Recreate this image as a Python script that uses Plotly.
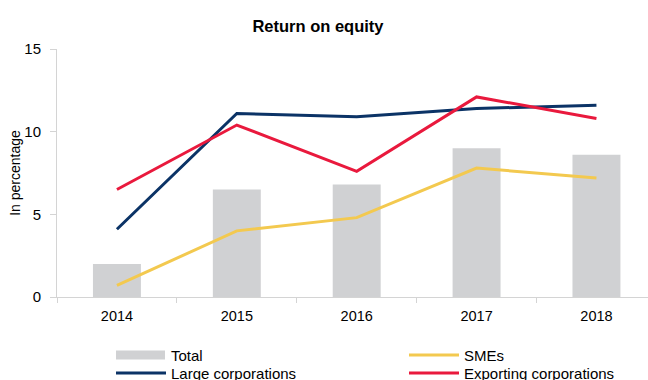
import plotly.graph_objects as go

# Return on equity by firm group, in percent
years = ["2014", "2015", "2016", "2017", "2018"]
total = [2.0, 6.5, 6.8, 9.0, 8.6]
smes = [0.7, 4.0, 4.8, 7.8, 7.2]
large_corps = [4.1, 11.1, 10.9, 11.4, 11.6]
exporting_corps = [6.5, 10.4, 7.6, 12.1, 10.8]

FONT = "Liberation Sans Narrow, Arial Narrow, Liberation Sans, Arial, sans-serif"
GREY_BAR = "#d0d1d3"
NAVY = "#0b3366"
RED = "#e9193d"
YELLOW = "#f3c94f"
AXIS = "#d4d4d4"

W, H = 648, 380
ML, MR, MT, MB = 57, 0, 49, 83

fig = go.Figure()
fig.add_trace(go.Bar(x=years, y=total, name="Total", marker_color=GREY_BAR,
                     marker_line_width=0, width=0.4))
fig.add_trace(go.Scatter(x=years, y=smes, name="SMEs", mode="lines",
                         line=dict(color=YELLOW, width=3)))
fig.add_trace(go.Scatter(x=years, y=large_corps, name="Large corporations", mode="lines",
                         line=dict(color=NAVY, width=3)))
fig.add_trace(go.Scatter(x=years, y=exporting_corps, name="Exporting corporations", mode="lines",
                         line=dict(color=RED, width=3)))

# Hand-placed legend below the plot (pixel positions converted to paper units)
pw, ph = W - ML - MR, H - MT - MB


def px(x):
    return (x - ML) / pw


def py(y):
    return (H - MB - y) / ph


legend_items = [
    ("Total", "bar", GREY_BAR, 116, 355),
    ("SMEs", "line", YELLOW, 409, 355),
    ("Large corporations", "line", NAVY, 116, 373),
    ("Exporting corporations", "line", RED, 409, 373),
]
shapes = []
annotations = []
for label, kind, color, x0, yc in legend_items:
    if kind == "bar":
        shapes.append(dict(type="rect", xref="paper", yref="paper",
                           x0=px(x0), x1=px(x0 + 49), y0=py(yc + 4.5), y1=py(yc - 4.5),
                           fillcolor=color, line_width=0))
    else:
        shapes.append(dict(type="line", xref="paper", yref="paper",
                           x0=px(x0), x1=px(x0 + 50), y0=py(yc), y1=py(yc),
                           line=dict(color=color, width=3)))
    annotations.append(dict(text=label, xref="paper", yref="paper",
                            x=px(x0 + 53), y=py(yc), xanchor="left", yanchor="middle",
                            showarrow=False, font=dict(family=FONT, size=15, color="#000")))

fig.update_layout(
    width=W, height=H,
    margin=dict(l=ML, r=MR, t=MT, b=MB, pad=0),
    paper_bgcolor="white", plot_bgcolor="white",
    showlegend=False,
    title=dict(text="<b>Return on equity</b>", x=318 / W, xanchor="center",
               y=1 - 26 / H, yanchor="middle",
               font=dict(family=FONT, size=16.5, color="#000")),
    font=dict(family=FONT, size=15, color="#000"),
    xaxis=dict(type="category", range=[-0.5, 4.43], showline=True, linecolor=AXIS,
               linewidth=1, ticks="outside", tickson="boundaries", ticklen=5,
               tickcolor=AXIS, showgrid=False, zeroline=False, ticklabelstandoff=6,
               tickfont=dict(family=FONT, size=14.5)),
    yaxis=dict(range=[0, 15], tickvals=[0, 5, 10, 15], showline=True, linecolor=AXIS,
               linewidth=1, ticks="outside", ticklen=6, tickcolor=AXIS, showgrid=False,
               zeroline=False, ticklabelstandoff=6, tickfont=dict(family=FONT, size=15),
               title=dict(text="In percentage", standoff=0,
                          font=dict(family=FONT, size=14))),
    bargap=0.6,
    shapes=shapes,
    annotations=annotations,
)

fig.write_html("out.html")
